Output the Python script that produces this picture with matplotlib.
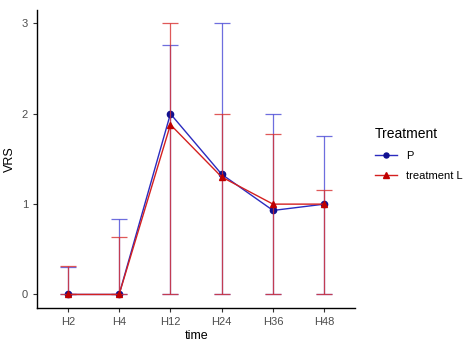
import numpy as np
import matplotlib
matplotlib.use("Agg")
import matplotlib.pyplot as plt

plt.rcParams['font.family'] = ['Liberation Sans', 'DejaVu Sans']

times = ['H2', 'H4', 'H12', 'H24', 'H36', 'H48']
p_mean = [0, 0, 2.0, 1.33, 0.93, 1.0]
p_low = [0, 0, 0, 0, 0, 0]
p_high = [0.3, 0.83, 2.76, 3.0, 2.0, 1.75]
l_mean = [0, 0, 1.88, 1.3, 1.0, 1.0]
l_low = [0, 0, 0, 0, 0, 0]
l_high = [0.32, 0.64, 3.0, 2.0, 1.78, 1.16]

x = np.arange(len(times))

fig = plt.figure(figsize=(4.63, 3.42), dpi=100)
ax = fig.add_axes([0.080, 0.0994, 0.687, 0.8716])

def draw(mean, low, high, color, ecolor, mcolor, marker, ms, label, z):
    mean = np.array(mean)
    err = [mean - np.array(low), np.array(high) - mean]
    ax.errorbar(x, mean, yerr=err, fmt='none', ecolor=ecolor, elinewidth=0.9,
                capsize=6, capthick=0.9, alpha=0.8, zorder=z)
    ax.plot(x, mean, color=color, lw=1.0, marker=marker, ms=ms,
            mfc=mcolor, mec=mcolor, label=label, zorder=z + 1)

draw(p_mean, p_low, p_high, '#2b2bbf', '#4a4ad6', '#101090', 'o', 4.5, 'P', 2)
draw(l_mean, l_low, l_high, '#d42020', '#d83030', '#c00000', '^', 5, 'treatment L', 4)

ax.set_xlim(-0.6, len(times) - 0.4)
ax.set_ylim(-0.15, 3.15)
ax.set_xticks(x)
ax.set_xticklabels(times)
ax.set_yticks([0, 1, 2, 3])
for s in ['top', 'right']:
    ax.spines[s].set_visible(False)
for s in ['left', 'bottom']:
    ax.spines[s].set_linewidth(1.0)
    ax.spines[s].set_color('black')
ax.tick_params(axis='both', colors='#333333', labelsize=8, length=3, width=0.8,
               labelcolor='#4d4d4d')
ax.set_xlabel('time', fontsize=9, labelpad=2)
ax.set_ylabel('VRS', fontsize=9, labelpad=4)

leg = ax.legend(title='Treatment', loc='center left', bbox_to_anchor=(1.03, 0.518),
                frameon=False, fontsize=8, title_fontsize=10, handlelength=2.0,
                labelspacing=0.9, alignment='left', markerscale=0.8)

fig.savefig('out.png', dpi=100)
